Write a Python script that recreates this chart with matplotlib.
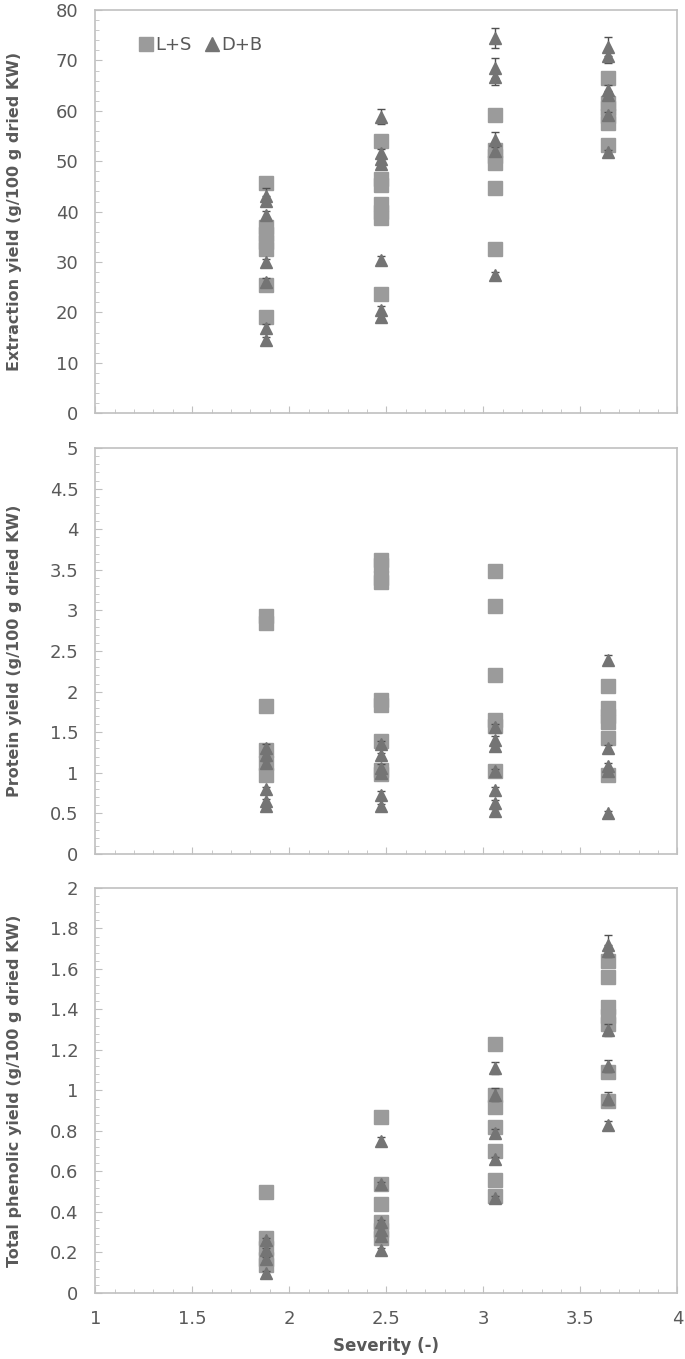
import matplotlib
matplotlib.use('Agg')
import matplotlib.pyplot as plt
from matplotlib.lines import Line2D
from matplotlib.ticker import MultipleLocator, FuncFormatter

plt.rcParams['font.family'] = ['DejaVu Sans']

# severity of the four pretreatment conditions
sev_ls = [1.88, 2.47, 3.06, 3.64]

# extraction yield, L+S (squares) and D+B (triangles): one list per severity
ext_ls = [[45.7, 37.0, 35.5, 34.0, 32.5, 25.5, 19.1],
          [54.0, 46.4, 45.3, 41.5, 40.0, 38.8, 23.7],
          [59.1, 52.3, 51.0, 49.7, 44.6, 32.6],
          [66.5, 61.6, 60.5, 59.0, 57.6, 53.3]]
ext_ls_err = [[0.5, 0.4, 0.4, 0.3, 0.3, 0.5, 0.4],
              [0.5, 0.4, 0.3, 0.4, 0.3, 0.3, 0.4],
              [1.0, 0.5, 0.4, 0.5, 0.4, 0.4],
              [1.0, 0.6, 0.5, 0.5, 0.5, 0.5]]
ext_db = [[43.1, 42.1, 39.3, 30.0, 26.0, 16.9, 14.5],
          [58.8, 51.7, 50.4, 49.4, 30.3, 20.4, 19.1],
          [74.4, 68.5, 66.7, 54.3, 52.0, 27.5],
          [72.7, 70.8, 64.2, 63.2, 59.2, 51.8]]
ext_db_err = [[1.5, 1.0, 0.8, 0.5, 0.8, 0.8, 0.6],
              [1.5, 0.8, 0.6, 0.6, 0.8, 0.8, 0.6],
              [2.0, 2.0, 1.5, 1.5, 1.0, 0.5],
              [1.9, 1.3, 1.0, 0.8, 0.6, 0.5]]

# protein yield
pro_ls = [[2.93, 2.85, 1.82, 1.28, 1.12, 0.97],
          [3.62, 3.56, 3.40, 3.35, 1.90, 1.84, 1.39, 1.04, 0.98],
          [3.49, 3.05, 2.21, 1.65, 1.58, 1.02],
          [2.07, 1.80, 1.70, 1.62, 1.43, 0.97]]
pro_ls_err = [[0.02, 0.02, 0.02, 0.02, 0.02, 0.02],
              [0.04, 0.03, 0.04, 0.03, 0.02, 0.02, 0.02, 0.02, 0.02],
              [0.05, 0.05, 0.02, 0.02, 0.02, 0.02],
              [0.02, 0.02, 0.02, 0.02, 0.02, 0.02]]
pro_db = [[1.31, 1.22, 1.12, 0.80, 0.65, 0.59],
          [1.35, 1.22, 1.06, 1.00, 0.73, 0.59],
          [1.57, 1.41, 1.33, 1.02, 0.79, 0.63, 0.53],
          [2.39, 1.31, 1.08, 1.02, 0.50]]
pro_db_err = [[0.05, 0.03, 0.03, 0.03, 0.03, 0.03],
              [0.04, 0.03, 0.05, 0.03, 0.04, 0.03],
              [0.03, 0.04, 0.03, 0.03, 0.03, 0.03, 0.03],
              [0.06, 0.03, 0.04, 0.03, 0.03]]

# total phenolic yield
phe_ls = [[0.50, 0.27, 0.22, 0.17, 0.14],
          [0.87, 0.54, 0.44, 0.35, 0.31, 0.27],
          [1.23, 0.98, 0.92, 0.82, 0.70, 0.56, 0.48],
          [1.64, 1.56, 1.41, 1.37, 1.33, 1.09, 0.95]]
phe_ls_err = [[0.01, 0.01, 0.01, 0.01, 0.01],
              [0.01, 0.01, 0.01, 0.01, 0.01, 0.01],
              [0.01, 0.01, 0.01, 0.01, 0.01, 0.01, 0.01],
              [0.02, 0.02, 0.03, 0.02, 0.02, 0.02, 0.02]]
phe_db = [[0.26, 0.21, 0.17, 0.10],
          [0.75, 0.54, 0.35, 0.31, 0.28, 0.21],
          [1.11, 0.98, 0.79, 0.66, 0.47],
          [1.72, 1.69, 1.30, 1.12, 0.96, 0.83]]
phe_db_err = [[0.01, 0.01, 0.01, 0.01],
              [0.02, 0.01, 0.01, 0.01, 0.01, 0.01],
              [0.03, 0.03, 0.02, 0.01, 0.01],
              [0.05, 0.03, 0.03, 0.03, 0.03, 0.02]]

panels = [
    ("Extraction yield (g/100 g dried KW)", ext_ls, ext_ls_err, ext_db, ext_db_err, 80, 10, 2),
    ("Protein yield (g/100 g dried KW)", pro_ls, pro_ls_err, pro_db, pro_db_err, 5, 0.5, 0.1),
    ("Total phenolic yield (g/100 g dried KW)", phe_ls, phe_ls_err, phe_db, phe_db_err, 2, 0.2, 0.04),
]

sq_col = '#9b9b9b'
tri_col = '#747474'
err_col = '#505050'
spine_col = '#c0c0c0'
text_col = '#595959'

fig = plt.figure(figsize=(6.85, 13.59), dpi=100)
boxes = [(0.9926, 0.696), (0.6703, 0.3716), (0.3466, 0.0486)]
left, width = 0.139, 0.850

fmt = FuncFormatter(lambda v, p: '%g' % round(v, 6))

for i, (label, ls, ls_err, db, db_err, ymax, major, minor) in enumerate(panels):
    top, bottom = boxes[i]
    ax = fig.add_axes([left, bottom, width, top - bottom])

    for k, s in enumerate(sev_ls):
        xs = [s] * len(ls[k])
        ax.errorbar(xs, ls[k], yerr=ls_err[k], fmt='s', ms=10, mfc=sq_col, mec=sq_col,
                    ecolor=err_col, elinewidth=1, capsize=3, zorder=2)
    for k, s in enumerate(sev_ls):
        xs = [s] * len(db[k])
        ax.errorbar(xs, db[k], yerr=db_err[k], fmt='^', ms=9, mfc=tri_col, mec=tri_col,
                    ecolor=err_col, elinewidth=1, capsize=3, zorder=3)

    ax.set_xlim(1, 4)
    ax.set_ylim(0, ymax)
    ax.xaxis.set_major_locator(MultipleLocator(0.5))
    ax.xaxis.set_minor_locator(MultipleLocator(0.1))
    ax.yaxis.set_major_locator(MultipleLocator(major))
    ax.yaxis.set_minor_locator(MultipleLocator(minor))
    ax.xaxis.set_major_formatter(fmt)
    ax.yaxis.set_major_formatter(fmt)
    ax.tick_params(which='both', direction='in', color=spine_col, labelcolor=text_col,
                   labelsize=13, top=False, right=False)
    ax.tick_params(which='major', length=5)
    ax.tick_params(which='minor', length=3)
    ax.tick_params(axis='y', pad=12)
    ax.tick_params(axis='x', pad=12)
    for sp in ax.spines.values():
        sp.set_color(spine_col)
        sp.set_linewidth(1.2)

    ax.set_ylabel(label, fontsize=11.5, fontweight='bold', color=text_col)
    ax.yaxis.set_label_coords(-0.126, 0.5)

    if i < 2:
        ax.tick_params(axis='x', labelbottom=False)
    else:
        ax.set_xlabel("Severity (-)", fontsize=12, fontweight='bold', color=text_col,
                      labelpad=7)

    if i == 0:
        handles = [Line2D([], [], ls='none', marker='s', ms=10, mfc=sq_col, mec=sq_col),
                   Line2D([], [], ls='none', marker='^', ms=10, mfc=tri_col, mec=tri_col)]
        ax.legend(handles, ['L+S', 'D+B'], loc='upper left', bbox_to_anchor=(0.045, 0.975),
                  ncol=2, frameon=False, handletextpad=0.05, columnspacing=0.7,
                  fontsize=13, labelcolor=text_col, handlelength=0.9)

fig.savefig('out.png', dpi=100)
